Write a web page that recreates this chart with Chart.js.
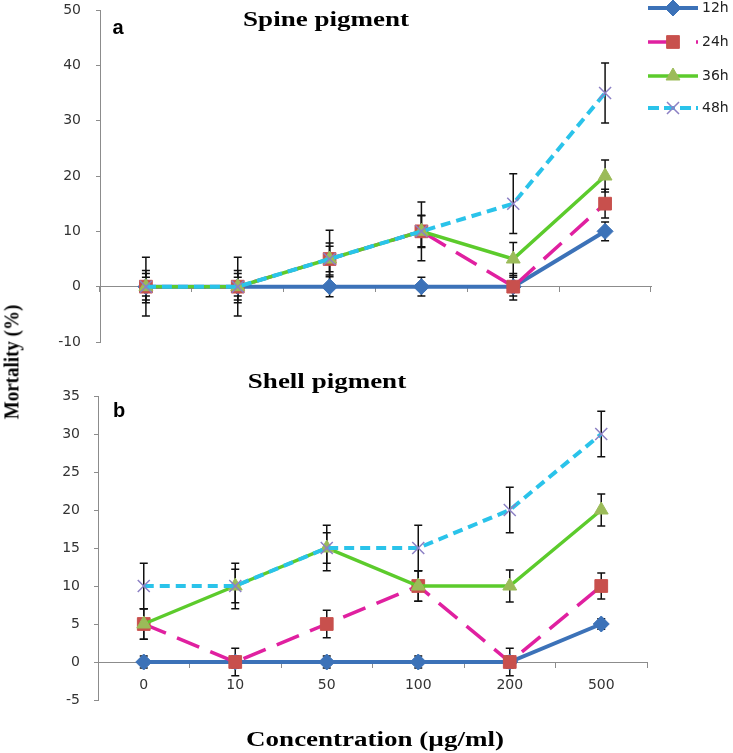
<!DOCTYPE html>
<html><head><meta charset="utf-8">
<script src="https://cdn.jsdelivr.net/npm/chart.js@4.4.1/dist/chart.umd.min.js"></script>
<style>
html,body{margin:0;padding:0;background:#fff;width:733px;height:753px;overflow:hidden;}
.box{position:absolute;left:0;width:733px;}
.t{position:absolute;font-family:"Liberation Serif","Times New Roman",serif;font-weight:bold;white-space:nowrap;color:#000;transform:translate(-50%,-50%) scaleX(1.35);line-height:1;}
.p{position:absolute;font-family:"Liberation Sans",Arial,sans-serif;font-weight:bold;font-size:20px;color:#000;transform:translate(-50%,-50%);line-height:1;}
</style></head><body>
<div class="box" style="top:0;height:360px"><canvas id="cA"></canvas></div>
<div class="box" style="top:360px;height:393px"><canvas id="cB"></canvas></div>
<div class="t" style="left:326px;top:19px;font-size:20px">Spine pigment</div>
<div class="p" style="left:118px;top:27px">a</div>
<div class="t" style="left:327px;top:381px;font-size:20px">Shell pigment</div>
<div class="p" style="left:119px;top:410px">b</div>
<div class="t" style="left:11px;top:362px;font-size:19px;transform:translate(-50%,-50%) rotate(-90deg) scaleY(1.1)">Mortality (%)</div>
<div class="t" style="left:375px;top:739px;font-size:20px">Concentration (µg/ml)</div>
<script>
const categories = ['0','10','50','100','200','500'];
const seriesNames = ['12h','24h','36h','48h'];

// Spine pigment (panel a)
const spine12h = [0,0,0,0,0,10];
const spine24h = [0,0,5,10,0,15];
const spine36h = [0,0,5,10,5,20];
const spine48h = [0,0,5,10,15,35];
const spineErr12h = [1.7,1.7,1.8,1.7,1.7,1.7];
const spineErr24h = [2.4,2.4,2.3,2.8,2.4,2.6];
const spineErr36h = [2.9,2.9,2.9,2.9,3.0,2.9];
const spineErr48h = [5.3,5.3,5.2,5.3,5.4,5.4];

// Shell pigment (panel b)
const shell12h = [0,0,0,0,0,5];
const shell24h = [5,0,5,10,0,10];
const shell36h = [5,10,15,10,10,20];
const shell48h = [10,10,15,15,20,30];
const shellErr12h = [0.8,0.8,0.8,0.8,0.8,0.7];
const shellErr24h = [2,1.8,1.8,2,1.8,1.7];
const shellErr36h = [2,2.2,2,2,2.1,2.1];
const shellErr48h = [3,3,3,3,3,3];

const styles = [
  {borderColor:'#3c72b8', borderWidth:4, borderDash:[], pointStyle:'rectRot', pointRadius:8, pointBackgroundColor:'#3c72b8', pointBorderColor:'#3c72b8', pointBorderWidth:1, legendDash:[], order:4},
  {borderColor:'#e020a0', borderWidth:3.5, borderDash:[24,12], pointStyle:'rect', pointRadius:9, pointBackgroundColor:'#c8504d', pointBorderColor:'#c8504d', pointBorderWidth:1, legendDash:[22,26], order:3},
  {borderColor:'#5ccb2c', borderWidth:3.5, borderDash:[], pointStyle:'triangle', pointRadius:8, pointBackgroundColor:'#9bbb59', pointBorderColor:'#9bbb59', pointBorderWidth:1, legendDash:[], order:2},
  {borderColor:'#2ac3ea', borderWidth:4, borderDash:[10,6], pointStyle:'crossRot', pointRadius:8.5, pointBackgroundColor:'#8c80c4', pointBorderColor:'#8c80c4', pointBorderWidth:1.5, legendDash:[11,5], order:1}
];

function makeDatasets(values, errors){
  return values.map((v,i)=>Object.assign({label:seriesNames[i], data:v, errors:errors[i], fill:false, tension:0}, styles[i]));
}

const errorBars = {
  id:'errorBars',
  beforeDatasetsDraw(chart){
    const ctx = chart.ctx, ys = chart.scales.y;
    ctx.save();
    ctx.strokeStyle = '#111'; ctx.lineWidth = 1.5;
    chart.data.datasets.forEach((ds,di)=>{
      const meta = chart.getDatasetMeta(di);
      ds.errors.forEach((e,i)=>{
        const p = meta.data[i], v = ds.data[i];
        const yt = ys.getPixelForValue(v+e), yb = ys.getPixelForValue(v-e);
        ctx.beginPath();
        ctx.moveTo(p.x,yt); ctx.lineTo(p.x,yb);
        ctx.moveTo(p.x-4,yt); ctx.lineTo(p.x+4,yt);
        ctx.moveTo(p.x-4,yb); ctx.lineTo(p.x+4,yb);
        ctx.stroke();
      });
    });
    ctx.restore();
  }
};

const sideLegend = {
  id:'sideLegend',
  afterDraw(chart){
    if (!chart.options.plugins.sideLegend || !chart.options.plugins.sideLegend.show) return;
    const ctx = chart.ctx; const rows = [8,42,76,108];
    chart.data.datasets.forEach((ds,i)=>{
      const y = rows[i];
      ctx.save();
      ctx.strokeStyle = ds.borderColor; ctx.lineWidth = ds.borderWidth; ctx.setLineDash(ds.legendDash);
      ctx.beginPath(); ctx.moveTo(648,y); ctx.lineTo(698,y); ctx.stroke();
      ctx.setLineDash([]);
      ctx.fillStyle = ds.pointBackgroundColor; ctx.strokeStyle = ds.pointBorderColor; ctx.lineWidth = ds.pointBorderWidth;
      Chart.helpers.drawPoint(ctx,{pointStyle:ds.pointStyle,radius:ds.pointRadius,rotation:0,borderWidth:ds.pointBorderWidth},673,y);
      ctx.fillStyle = '#222'; ctx.font = '14px "DejaVu Sans"'; ctx.textBaseline = 'middle'; ctx.textAlign='left';
      ctx.fillText(ds.label,702,y);
      ctx.restore();
    });
  }
};

function makeOptions(min,max,step,showX,padding,legend,axisW,labPad){
  return {
    responsive:true, maintainAspectRatio:false, animation:false, events:[],
    layout:{padding:padding},
    plugins:{legend:{display:false}, tooltip:{enabled:false}, sideLegend:{show:legend}},
    scales:{
      x:{
        type:'category', position:{y:0}, offset:true,
        grid:{display:true, drawOnChartArea:false, drawTicks:true, tickLength:5, color:'#8c8c8c', offset:true, lineWidth:1},
        border:{display:true, color:'#8c8c8c', width:1},
        ticks:{display:showX, color:'#333', font:{family:'DejaVu Sans', size:14}, padding:10, maxRotation:0},
        afterFit(s){ s.height = 0; s.paddingLeft = 0; s.paddingRight = 0; s.paddingTop = 0; s.paddingBottom = 0; }
      },
      y:{
        min:min, max:max,
        grid:{display:true, drawOnChartArea:false, drawTicks:true, tickLength:4, color:'#8c8c8c'},
        border:{display:true, color:'#8c8c8c', width:1},
        ticks:{stepSize:step, color:'#333', font:{family:'DejaVu Sans', size:14}, padding:labPad},
        afterFit(s){ s.width = axisW; s.paddingTop = 0; s.paddingBottom = 0; }
      }
    }
  };
}

new Chart(document.getElementById('cA'), {
  type:'line',
  data:{labels:categories, datasets:makeDatasets([spine12h,spine24h,spine36h,spine48h],[spineErr12h,spineErr24h,spineErr36h,spineErr48h])},
  options:makeOptions(-10,50,10,false,{left:0,top:8,right:82,bottom:18},true,100,15),
  plugins:[errorBars, sideLegend]
});

new Chart(document.getElementById('cB'), {
  type:'line',
  data:{labels:categories, datasets:makeDatasets([shell12h,shell24h,shell36h,shell48h],[shellErr12h,shellErr24h,shellErr36h,shellErr48h])},
  options:makeOptions(-5,35,5,true,{left:0,top:36,right:86,bottom:53},false,98,14),
  plugins:[errorBars, sideLegend]
});
</script>
</body></html>
